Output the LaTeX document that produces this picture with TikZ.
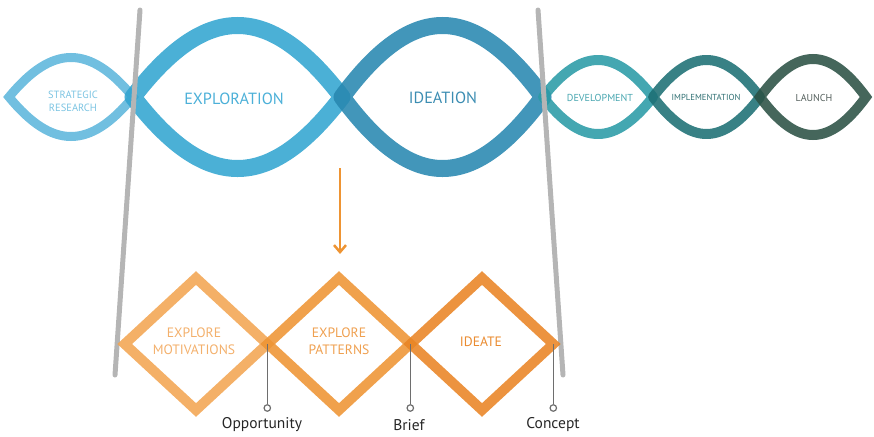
\documentclass[tikz,border=0pt]{standalone}
\usepackage{fontspec}
\setmainfont{PT Sans}
\usetikzlibrary{arrows.meta}
\definecolor{cStrat}{HTML}{5DB6DC}
\definecolor{cExpl}{HTML}{32A5D0}
\definecolor{cIdea}{HTML}{2887B0}
\definecolor{cDev}{HTML}{2A9BA6}
\definecolor{cImpl}{HTML}{1C6F74}
\definecolor{cLaunch}{HTML}{2B5144}
\definecolor{tStrat}{HTML}{7CC4E2}
\definecolor{tExpl}{HTML}{4CB0D8}
\definecolor{tIdea}{HTML}{3C8DB2}
\definecolor{tDev}{HTML}{48A6B0}
\definecolor{tImpl}{HTML}{2F6F72}
\definecolor{tLaunch}{HTML}{55605D}
\definecolor{oA}{HTML}{F2A552}
\definecolor{oB}{HTML}{EE9433}
\definecolor{oC}{HTML}{E98424}
\definecolor{toA}{HTML}{F3B06C}
\definecolor{toB}{HTML}{EFA050}
\definecolor{toC}{HTML}{EA8B30}
\definecolor{gLine}{HTML}{B5B5B5}
\definecolor{markGray}{HTML}{6E6E6E}
\newcommand\lensshape[4]{%
  \draw[#4] (#1,97) .. controls ({#1+0.35*(#2-#1)},{97-#3/0.75}) and ({#2-0.35*(#2-#1)},{97-#3/0.75}) .. (#2,97)
    .. controls ({#2-0.35*(#2-#1)},{97+#3/0.75}) and ({#1+0.35*(#2-#1)},{97+#3/0.75}) .. (#1,97) -- cycle;}
\newcommand\diamondshape[2]{%
  \draw[dia,#2] ({#1-71.3},344) -- (#1,{344-66}) -- ({#1+71.3},344) -- (#1,{344+66}) -- cycle;}
\tikzset{
  lensline/.style={line width=#1, opacity=0.88, line join=round},
  dia/.style={line width=10pt, opacity=0.88, line join=miter},
  divider/.style={gLine, line width=5pt, line cap=round},
  txt/.style={inner sep=0pt, align=center},
  markerline/.style={draw=markGray, line width=1.6pt},
  markdot/.style={circle, draw=markGray, fill=white, line width=1.2pt, minimum size=6.5pt, inner sep=0pt},
  lbl/.style={inner sep=0pt, text=black!85, font=\fontsize{15.5}{18}\selectfont},
}
\begin{document}
\begin{tikzpicture}[x=1pt,y=-1pt]
\useasboundingbox (0,0) rectangle (874,436);
% lenses
\lensshape{9}{133}{39.5}{cStrat,lensline=9pt,line join=miter}
\lensshape{133}{342}{71.5}{cExpl,lensline=17pt}
\lensshape{342}{543}{71.5}{cIdea,lensline=17pt}
\lensshape{543}{653}{37}{cDev,lensline=10pt}
\lensshape{653}{760}{37}{cImpl,lensline=10pt}
\lensshape{760}{866}{38}{cLaunch,lensline=10pt,line join=miter}
% lens labels
\node[txt,text=tStrat,font=\fontsize{10.5}{13}\selectfont] (sr) at (73,101.5) {STRATEGIC\\RESEARCH};
\node[txt,text=tExpl,font=\fontsize{16.2}{18}\selectfont] (expl) at (234,99) {EXPLORATION};
\node[txt,text=tIdea,font=\fontsize{16.2}{18}\selectfont] (idea) at (443,98) {IDEATION};
\node[txt,text=tDev,font=\fontsize{10.1}{12}\selectfont] (dev) at (600,98) {DEVELOPMENT};
\node[txt,text=tImpl,font=\fontsize{8.7}{10}\selectfont] (impl) at (706,97) {IMPLEMENTATION};
\node[txt,text=tLaunch,font=\fontsize{10}{12}\selectfont] (launch) at (814,98) {LAUNCH};
% dividers
\coordinate (g1t) at (140,10);
\coordinate (g1b) at (115,375);
\coordinate (g2t) at (538,10);
\coordinate (g2b) at (563,375);
\draw[divider] (g1t) -- (g1b);
\draw[divider] (g2t) -- (g2b);
% arrow
\coordinate (arS) at (340,168);
\coordinate (arE) at (340,254);
\draw[oB, line width=2.5pt, -{Straight Barb[length=7pt,width=12pt,line width=2.5pt]}] (arS) -- (arE);
% diamonds
\diamondshape{196}{oA}
\diamondshape{339}{oB}
\diamondshape{482}{oC}
\node[txt,text=toA,font=\fontsize{13.6}{17}\selectfont] (d1) at (194,341.5) {EXPLORE\\MOTIVATIONS};
\node[txt,text=toB,font=\fontsize{13.6}{17}\selectfont] (d2) at (339,341.5) {EXPLORE\\PATTERNS};
\node[txt,text=toC,font=\fontsize{13.6}{17}\selectfont] (d3) at (481,342) {IDEATE};
% markers
\coordinate (v1) at (267.3,344);
\coordinate (v2) at (410.3,344);
\coordinate (v3) at (553.3,344);
\node[markdot] (m1) at (267.3,408) {};
\node[markdot] (m2) at (410.3,408) {};
\node[markdot] (m3) at (553.3,408) {};
\draw[markerline] (v1) -- (m1);
\draw[markerline] (v2) -- (m2);
\draw[markerline] (v3) -- (m3);
\node[lbl] (opp) at (262,425) {Opportunity};
\node[lbl] (brief) at (409,425) {Brief};
\node[lbl] (concept) at (553,425) {Concept};
\end{tikzpicture}
\end{document}
